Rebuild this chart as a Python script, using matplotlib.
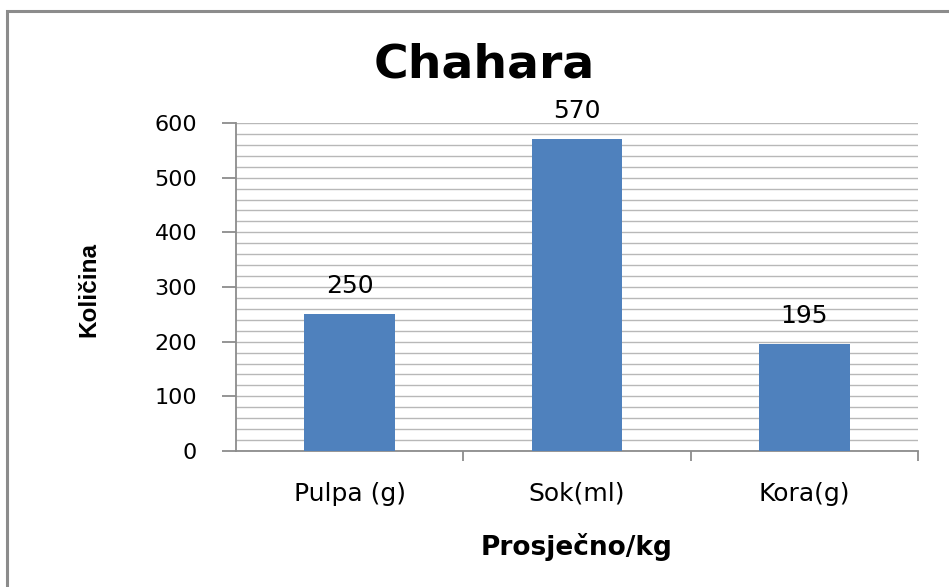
import matplotlib
matplotlib.use("Agg")
import matplotlib.pyplot as plt
from matplotlib.patches import Rectangle
from matplotlib.ticker import MultipleLocator

categories = ["Pulpa (g)", "Sok(ml)", "Kora(g)"]
values = [250, 570, 195]
title = "Chahara"
ylabel = "Količina"
xlabel = "Prosječno/kg"

W, H = 949, 587
fig = plt.figure(figsize=(W / 100, H / 100), dpi=100)

# outer frame
fig.patches.append(Rectangle((7 / W, -0.1), 1.2, 1 - 11 / H + 0.1, transform=fig.transFigure,
                             fill=False, edgecolor="#8c8c8c", linewidth=2.2, zorder=0))

ax = fig.add_axes([236 / W, 1 - 451 / H, (918 - 236) / W, (451 - 123) / H])
x = range(len(categories))
bars = ax.bar(x, values, width=0.4, color="#4F81BD", zorder=3)
ax.set_xlim(-0.5, len(categories) - 0.5)
ax.set_ylim(0, 600)
ax.yaxis.set_major_locator(MultipleLocator(100))
ax.yaxis.set_minor_locator(MultipleLocator(20))
ax.grid(axis="y", which="both", color="#b8b8b8", linewidth=1.0, zorder=0)
ax.set_axisbelow(True)

for s in ["top", "right"]:
    ax.spines[s].set_visible(False)
for s in ["left", "bottom"]:
    ax.spines[s].set_color("#8c8c8c")
    ax.spines[s].set_linewidth(1.3)

ax.tick_params(axis="y", which="major", length=10, width=1.3, color="#8c8c8c",
               labelsize=16, pad=18, labelcolor="black")
ax.tick_params(axis="y", which="minor", length=0)
ax.set_yticks(range(0, 601, 100))
ax.set_yticklabels([str(v) for v in range(0, 601, 100)], family="DejaVu Sans")

# x ticks at category boundaries, labels at centers
ax.set_xticks([i + 0.5 for i in range(len(categories))])
ax.set_xticks(list(x), minor=True)
ax.set_xticklabels([])
ax.set_xticklabels(categories, minor=True, family="DejaVu Sans", fontsize=18)
ax.tick_params(axis="x", which="major", length=7, width=1.3, color="#8c8c8c")
ax.tick_params(axis="x", which="minor", length=0, pad=22)

for i, v in enumerate(values):
    ax.annotate(str(v), (i, v), xytext=(0, 12), textcoords="offset points",
                ha="center", va="bottom", fontsize=18, family="DejaVu Sans")

fig.text(484 / W, 1 - 77 / H, title, ha="center", va="baseline", fontsize=34,
         fontweight="bold", family="DejaVu Sans")
fig.text(89 / W, 1 - 290 / H, ylabel, ha="center", va="center", rotation=90,
         fontsize=17.5, fontweight="bold", family="Liberation Sans")
fig.text(577 / W, 1 - 555 / H, xlabel, ha="center", va="baseline", fontsize=19,
         fontweight="bold", family="DejaVu Sans")

fig.savefig("out.png", dpi=100)
